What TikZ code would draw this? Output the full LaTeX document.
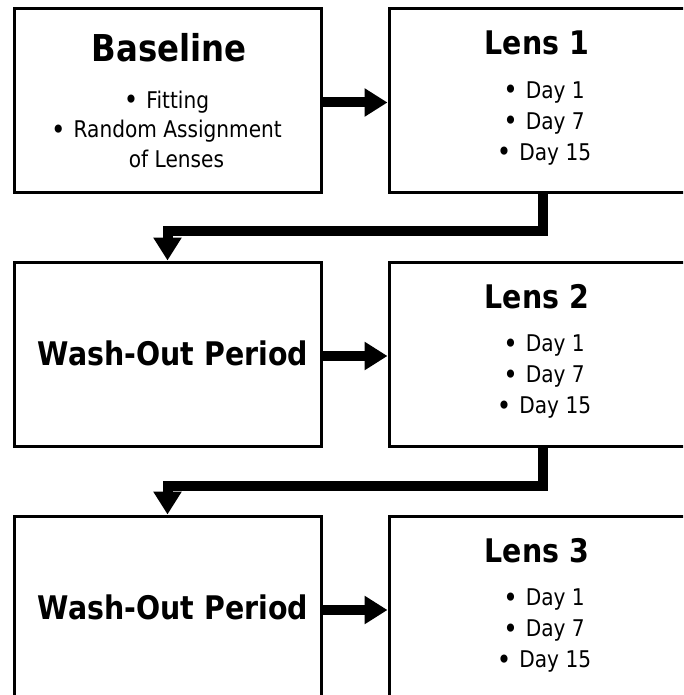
\documentclass[tikz,border=0pt]{standalone}
\usepackage{fontspec}
\setmainfont[FakeStretch=0.875]{DejaVu Sans}
\usetikzlibrary{arrows.meta}

\newcommand{\bul}{\raisebox{-1.5pt}{\fontsize{28}{28}\selectfont•}\hspace{0.35em}}

\tikzset{
	stage/.style={draw, line width=3pt, minimum height=184pt, inner sep=0pt},
	flow/.style={line width=10pt, -{Triangle[width=27pt,length=23pt]}},
	bigtitle/.style={anchor=base, font=\fontsize{37}{44}\selectfont\bfseries},
	stagetitle/.style={anchor=base, font=\fontsize{32.5}{38}\selectfont\bfseries},
	items/.style={anchor=north, align=center, inner sep=0pt, font=\fontsize{23}{31}\selectfont}
}

\begin{document}
\begin{tikzpicture}[x=1pt, y=-1pt]
			\useasboundingbox (0,0) rectangle (683,695);
			\clip (0,0) rectangle (683,695);
			\node[stage, minimum width=307pt] (base) at (167.5,100.5) {};
			\node[stage, minimum width=300pt] (lensA) at (539,100.5) {};
			\node[stage, minimum width=307pt] (washA) at (167.5,354) {};
			\node[stage, minimum width=300pt] (lensB) at (539,354) {};
			\node[stage, minimum width=307pt] (washB) at (167.5,608) {};
			\node[stage, minimum width=300pt] (lensC) at (539,608) {};
			\node[bigtitle] (baseTitle) at (169,62) {Baseline};
			\node[items, font=\fontsize{23}{29.5}\selectfont] (baseItems) at (166.5,90.5) {\bul Fitting\\\bul Random Assignment\\\hspace*{20pt}of Lenses};
			\node[stagetitle] (lensATitle) at (537,55) {Lens 1};
			\node[items] (lensAItems) at (544,81.5) {\bul Day 1\\\bul Day 7\\\bul Day 15};
			\node[stagetitle] (washATitle) at (173,365) {Wash-Out Period};
			\node[stagetitle] (lensBTitle) at (537,308) {Lens 2};
			\node[items] (lensBItems) at (544,335) {\bul Day 1\\\bul Day 7\\\bul Day 15};
			\node[stagetitle] (washBTitle) at (173,619) {Wash-Out Period};
			\node[stagetitle] (lensCTitle) at (537,562) {Lens 3};
			\node[items] (lensCItems) at (544,589) {\bul Day 1\\\bul Day 7\\\bul Day 15};
			\draw[flow] ([yshift=-2pt]base.east) -- ([yshift=-2pt]lensA.west);
			\draw[flow] ([xshift=4pt]lensA.south) -- ++(0,37) -| (washA.north);
			\draw[flow] ([yshift=-2pt]washA.east) -- ([yshift=-2pt]lensB.west);
			\draw[flow] ([xshift=4pt]lensB.south) -- ++(0,38) -| (washB.north);
			\draw[flow] ([yshift=-2pt]washB.east) -- ([yshift=-2pt]lensC.west);
		\end{tikzpicture}
\end{document}
